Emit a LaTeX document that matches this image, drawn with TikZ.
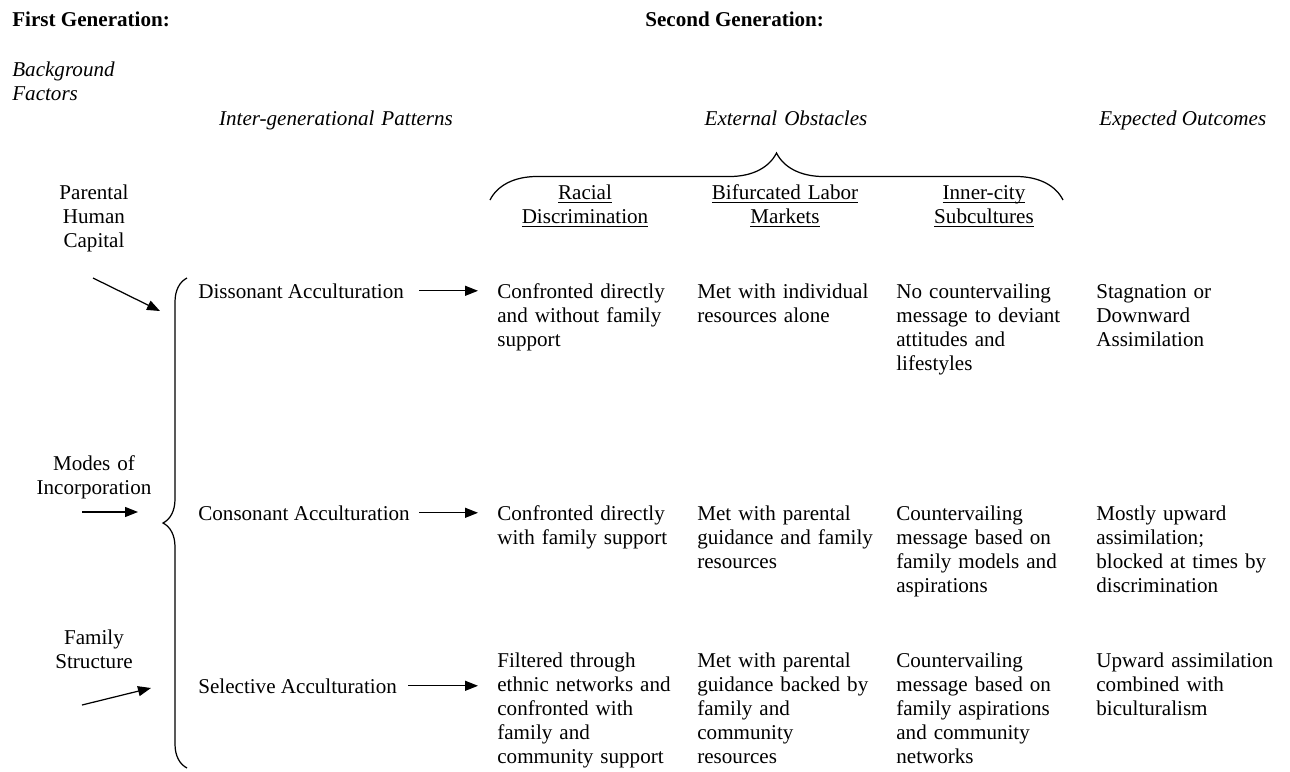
\documentclass[tikz,border=0pt]{standalone}
\usepackage{fontspec}
\setmainfont{Liberation Serif}
\usepackage{tikz}
\usetikzlibrary{arrows.meta,positioning,decorations.pathreplacing}
\newcommand{\ulhead}[1]{\leavevmode\setbox0\hbox{#1}\rlap{\rule[-2.4pt]{\wd0}{0.6pt}}\box0}
\tikzset{
  gcell/.style={anchor=base west,align=left,text width=3.8cm,inner sep=0pt},
  gmid/.style={anchor=base,align=center,text width=4cm,inner sep=0pt},
  gline/.style={anchor=base west,inner sep=0pt},
  garr/.style={-{Triangle[length=2.6mm,width=2mm]},line width=0.7pt},
  gbrace/.style={decorate,line width=0.7pt}
}
\begin{document}
\begin{tikzpicture}[x=0.02cm,y=-0.02cm,font=\fontsize{12}{13.66}\selectfont]
  \useasboundingbox (0,0) rectangle (1290,771);
  % headings
  \node[gline] (gen1) at (12,26) {\textbf{First Generation:}};
  \node[gline] (gen2) at (645,26) {\textbf{Second Generation:}};
  \node[gcell] (bgf) at (12,76) {\textit{Background}\\\textit{Factors}};
  \node[gmid,text width=6cm] (igp) at (336,125) {\textit{Inter-generational Patterns}};
  \node[gmid] (exo) at (786,125) {\textit{External Obstacles}};
  \node[gline] (exp) at (1099,125) {\textit{Expected Outcomes}};
  \node[gmid] (hrace) at (585,199) {\ulhead{Racial}\\\ulhead{Discrimination}};
  \node[gmid] (hlabor) at (785,199) {\ulhead{Bifurcated Labor}\\\ulhead{Markets}};
  \node[gmid] (hsub) at (984,199) {\ulhead{Inner-city}\\\ulhead{Subcultures}};
  \draw[gbrace,decoration={brace,amplitude=0.94cm}] (490,200) -- (1063,200);
  % background factors
  \node[gmid,text width=3cm] (phc) at (94,199) {Parental\\Human\\Capital};
  \node[gmid,text width=3cm] (moi) at (94,470) {Modes of\\Incorporation};
  \node[gmid,text width=3cm] (fst) at (94,644) {Family\\Structure};
  \coordinate (p1) at (93,278);  \coordinate (p2) at (160,311);
  \coordinate (m1) at (82,512);  \coordinate (m2) at (138,512);
  \coordinate (f1) at (82,705);  \coordinate (f2) at (151,688);
  \draw[garr] (p1) -- (p2);
  \draw[garr] (m1) -- (m2);
  \draw[garr] (f1) -- (f2);
  \draw[gbrace,decoration={brace,amplitude=0.48cm}] (187,768) -- (187,278);
  % patterns
  \node[gline] (dis) at (198,298) {Dissonant Acculturation};
  \node[gline] (con) at (198,520) {Consonant Acculturation};
  \node[gline] (sel) at (198,693) {Selective Acculturation};
  % row 1
  \node[gcell] (r1c1) at (497,298) {Confronted directly\\and without family\\support};
  \node[gcell] (r1c2) at (697,298) {Met with individual\\resources alone};
  \node[gcell] (r1c3) at (896,298) {No countervailing\\message to deviant\\attitudes and\\lifestyles};
  \node[gcell] (r1c4) at (1096,298) {Stagnation or\\Downward\\Assimilation};
  % row 2
  \node[gcell] (r2c1) at (497,520) {Confronted directly\\with family support};
  \node[gcell] (r2c2) at (697,520) {Met with parental\\guidance and family\\resources};
  \node[gcell] (r2c3) at (896,520) {Countervailing\\message based on\\family models and\\aspirations};
  \node[gcell] (r2c4) at (1096,520) {Mostly upward\\assimilation;\\blocked at times by\\discrimination};
  % row 3
  \node[gcell] (r3c1) at (497,667) {Filtered through\\ethnic networks and\\confronted with\\family and\\community support};
  \node[gcell] (r3c2) at (697,667) {Met with parental\\guidance backed by\\family and\\community\\resources};
  \node[gcell] (r3c3) at (896,667) {Countervailing\\message based on\\family aspirations\\and community\\networks};
  \node[gcell] (r3c4) at (1096,667) {Upward assimilation\\combined with\\biculturalism};
  \draw[garr,shorten <=0.3cm,shorten >=0.38cm] (dis.east) -- (dis.east -| r1c1.west);
  \draw[garr,shorten <=0.18cm,shorten >=0.38cm] (con.east) -- (con.east -| r2c1.west);
  \draw[garr,shorten <=0.22cm,shorten >=0.38cm] (sel.east) -- (sel.east -| r3c1.west);
\end{tikzpicture}
\end{document}
